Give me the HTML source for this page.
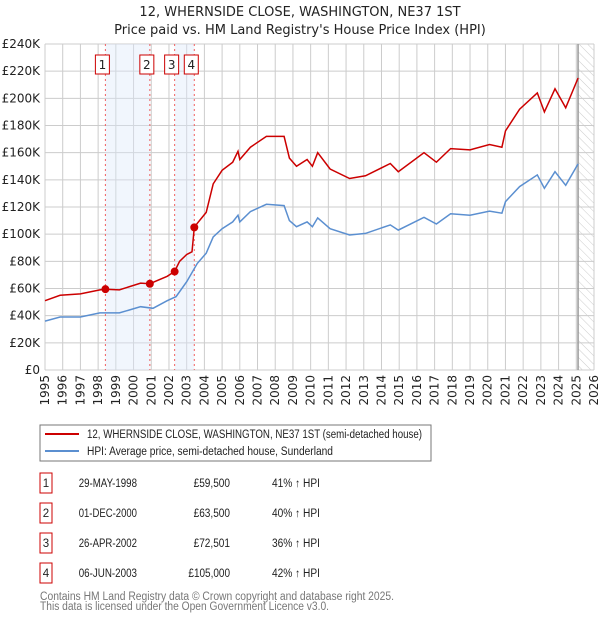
<!DOCTYPE html>
<html><head><meta charset="utf-8"><style>
body{margin:0;background:#fff;font-family:"DejaVu Sans","Liberation Sans",sans-serif;}
svg text{font-family:"DejaVu Sans","Liberation Sans",sans-serif;}
svg text.s{font-family:"Liberation Sans","DejaVu Sans",sans-serif;font-size:11.5px;}
</style></head><body>
<svg id="c" width="600" height="620" viewBox="0 0 600 620" xmlns="http://www.w3.org/2000/svg">
<defs><pattern id="hatch" width="6" height="6" patternUnits="userSpaceOnUse" patternTransform="rotate(-45)"><line x1="0" y1="0" x2="0" y2="6" stroke="#ccc" stroke-width="1"/></pattern></defs>
<text x="300" y="16" text-anchor="middle" font-size="13" fill="#222">12, WHERNSIDE CLOSE, WASHINGTON, NE37 1ST</text>
<text x="300" y="34" text-anchor="middle" font-size="13" fill="#222">Price paid vs. HM Land Registry's House Price Index (HPI)</text>
<g id="grid"></g><g id="bands"></g><g id="lines"></g><g id="marks"></g>
<g>
<rect x="40" y="425" width="391" height="36" fill="#fff" stroke="#777"/>
<line x1="45" y1="434" x2="79" y2="434" stroke="#cc0000" stroke-width="2"/>
<text class="s" x="87" y="438" fill="#222" textLength="335" lengthAdjust="spacingAndGlyphs">12, WHERNSIDE CLOSE, WASHINGTON, NE37 1ST (semi-detached house)</text>
<line x1="45" y1="451" x2="79" y2="451" stroke="#5b8fd0" stroke-width="2"/>
<text class="s" x="87" y="455" fill="#222" textLength="246" lengthAdjust="spacingAndGlyphs">HPI: Average price, semi-detached house, Sunderland</text>
</g>
<g id="table"></g>
<text class="s" x="40" y="600" fill="#777" textLength="354" lengthAdjust="spacingAndGlyphs">Contains HM Land Registry data © Crown copyright and database right 2025.</text>
<text class="s" x="40" y="610" fill="#777" textLength="289" lengthAdjust="spacingAndGlyphs">This data is licensed under the Open Government Licence v3.0.</text>
</svg>
<script>
const hpiYears=[1995.0,1995.85,1997.0,1998.1,1999.2,2000.4,2001.1,2001.9,2002.4,2003.0,2003.6,2004.1,2004.5,2005.0,2005.6,2005.9,2006.0,2006.6,2007.5,2008.5,2008.8,2009.2,2009.8,2010.1,2010.4,2011.1,2012.2,2013.1,2014.5,2014.95,2016.4,2017.1,2017.9,2019.0,2020.1,2020.8,2021.0,2021.8,2022.8,2023.2,2023.8,2024.4,2025.1];
const hpiValues=[36,39,39,42,42,46.6,45.4,51,54,65,78.5,86,98,104,109,114,109,116.6,122,121,110,105.5,109,105.5,112,104,99.4,100.6,106.8,103,112.4,107.5,115,114,117,115.4,124,135,143.6,133.8,146,136,151.7];
const redYears=[1995.0,1995.85,1997.0,1998.1,1998.41,1999.2,2000.4,2000.92,2001.9,2002.32,2002.6,2003.0,2003.3,2003.43,2003.6,2004.1,2004.5,2005.0,2005.6,2005.9,2006.0,2006.6,2007.5,2008.5,2008.8,2009.2,2009.8,2010.1,2010.4,2011.1,2012.2,2013.1,2014.5,2014.95,2016.4,2017.1,2017.9,2019.0,2020.1,2020.8,2021.0,2021.8,2022.8,2023.2,2023.8,2024.4,2025.1];
const redValues=[51,55,56,59,59.5,59,64,63.5,69,72.5,80,85,87,105,108,116,137,147,153,161,155,164,172,172,156,150,155,150,160,148,141,143,152,146,160,153,163,162,166,164,176,192,204,190,207,193,215];
const saleYears=[1998.41,2000.92,2002.32,2003.43];
const salePrices=[59500,63500,72501,105000];
const saleLabels=["1","2","3","4"];
const saleDates=["29-MAY-1998","01-DEC-2000","26-APR-2002","06-JUN-2003"];
const salePriceText=["£59,500","£63,500","£72,501","£105,000"];
const salePct=["41% ↑ HPI","40% ↑ HPI","36% ↑ HPI","42% ↑ HPI"];
const yTicks=[0,20,40,60,80,100,120,140,160,180,200,220,240];
const yTickLabels=["£0","£20K","£40K","£60K","£80K","£100K","£120K","£140K","£160K","£180K","£200K","£220K","£240K"];
const xYears=[1995,1996,1997,1998,1999,2000,2001,2002,2003,2004,2005,2006,2007,2008,2009,2010,2011,2012,2013,2014,2015,2016,2017,2018,2019,2020,2021,2022,2023,2024,2025,2026];
const X0=45,X1=594,Y0=370,Y1=44;
const xs=y=>X0+(y-1995)/31*(X1-X0);
const ys=v=>Y0-v/240*(Y0-Y1);
const NS="http://www.w3.org/2000/svg";
function mk(p,tag,at){const e=document.createElementNS(NS,tag);for(const k in at)e.setAttribute(k,at[k]);p.appendChild(e);return e;}
const grid=document.getElementById('grid');
mk(grid,'rect',{x:xs(2025.1),y:Y1,width:X1-xs(2025.1),height:Y0-Y1,fill:'url(#hatch)'});
yTicks.forEach((v,i)=>{
 const l=mk(grid,'line',{x1:X0,x2:X1,y1:ys(v),y2:ys(v),stroke:'#ccc'});
 
 
 const t=mk(grid,'text',{x:40,y:ys(v)+4,'text-anchor':'end','font-size':12,fill:'#222'});
 t.textContent=yTickLabels[i];
 
 
});
xYears.forEach(y=>{
 const l=mk(grid,'line',{x1:xs(y),x2:xs(y),y1:Y1,y2:Y0,stroke:'#ccc'});
 
 
 const t=mk(grid,'text',{x:0,y:0,'text-anchor':'end','font-size':12,fill:'#222',transform:`translate(${xs(y)+4},375) rotate(-90)`});
 t.textContent=y;
 
 
});
const vl=mk(grid,'line',{x1:xs(2025.1),x2:xs(2025.1),y1:Y1,y2:Y0,stroke:'#999','stroke-width':1.5});


const bands=document.getElementById('bands');
[[0,1],[2,3]].forEach(([a,b])=>{
 const r=mk(bands,'rect',{x:xs(saleYears[a]),y:Y1,width:xs(saleYears[b])-xs(saleYears[a]),height:Y0-Y1,fill:'#dde8fa','fill-opacity':0.4});
 
 
});
saleYears.forEach((y,i)=>{
 const l=mk(bands,'line',{x1:xs(y),x2:xs(y),y1:Y1,y2:Y0,stroke:'#f06060','stroke-dasharray':'2,3'});
 
 
 const r=mk(bands,'rect',{x:xs(y)-10,y:55,width:14,height:19,fill:'#fff',stroke:'#cc0000'});
 
 
 const t=mk(bands,'text',{x:xs(y)-3,y:69,'text-anchor':'middle','font-size':12,fill:'#222'});
 t.textContent=saleLabels[i];
 
 
});
const lines=document.getElementById('lines');
const pb=hpiYears.map((y,i)=>xs(y).toFixed(1)+','+ys(hpiValues[i]).toFixed(1)).join(' ');
const bl=mk(lines,'polyline',{points:pb,fill:'none',stroke:'#5b8fd0','stroke-width':1.5});


const pr=redYears.map((y,i)=>xs(y).toFixed(1)+','+ys(redValues[i]).toFixed(1)).join(' ');
const rl=mk(lines,'polyline',{points:pr,fill:'none',stroke:'#cc0000','stroke-width':1.5});


const marks=document.getElementById('marks');
saleYears.forEach((y,i)=>{
 const c=mk(marks,'circle',{cx:xs(y),cy:ys(salePrices[i]/1000),r:4,fill:'#cc0000'});
 
 
});
const tb=document.getElementById('table');
saleDates.forEach((d,i)=>{
 const cy=483+i*30;
 const r=mk(tb,'rect',{x:40,y:cy-10,width:12,height:20,fill:'#fff',stroke:'#cc0000'});
 
 
 const n=mk(tb,'text',{class:'s',x:46,y:cy+4,'text-anchor':'middle',fill:'#222'});n.textContent=saleLabels[i];
 
 
 const a=mk(tb,'text',{class:'s',x:137,y:cy+4,'text-anchor':'end',fill:'#222',textLength:d.length*5.3,lengthAdjust:'spacingAndGlyphs'});a.textContent=d;
 
 
 const p=salePriceText[i];
 const b=mk(tb,'text',{class:'s',x:230,y:cy+4,'text-anchor':'end',fill:'#222',textLength:p.length*5.2,lengthAdjust:'spacingAndGlyphs'});b.textContent=p;
 
 
 const c=mk(tb,'text',{class:'s',x:272,y:cy+4,fill:'#222',textLength:48,lengthAdjust:'spacingAndGlyphs'});c.textContent=salePct[i];
 
 
});
</script>
</body></html>
